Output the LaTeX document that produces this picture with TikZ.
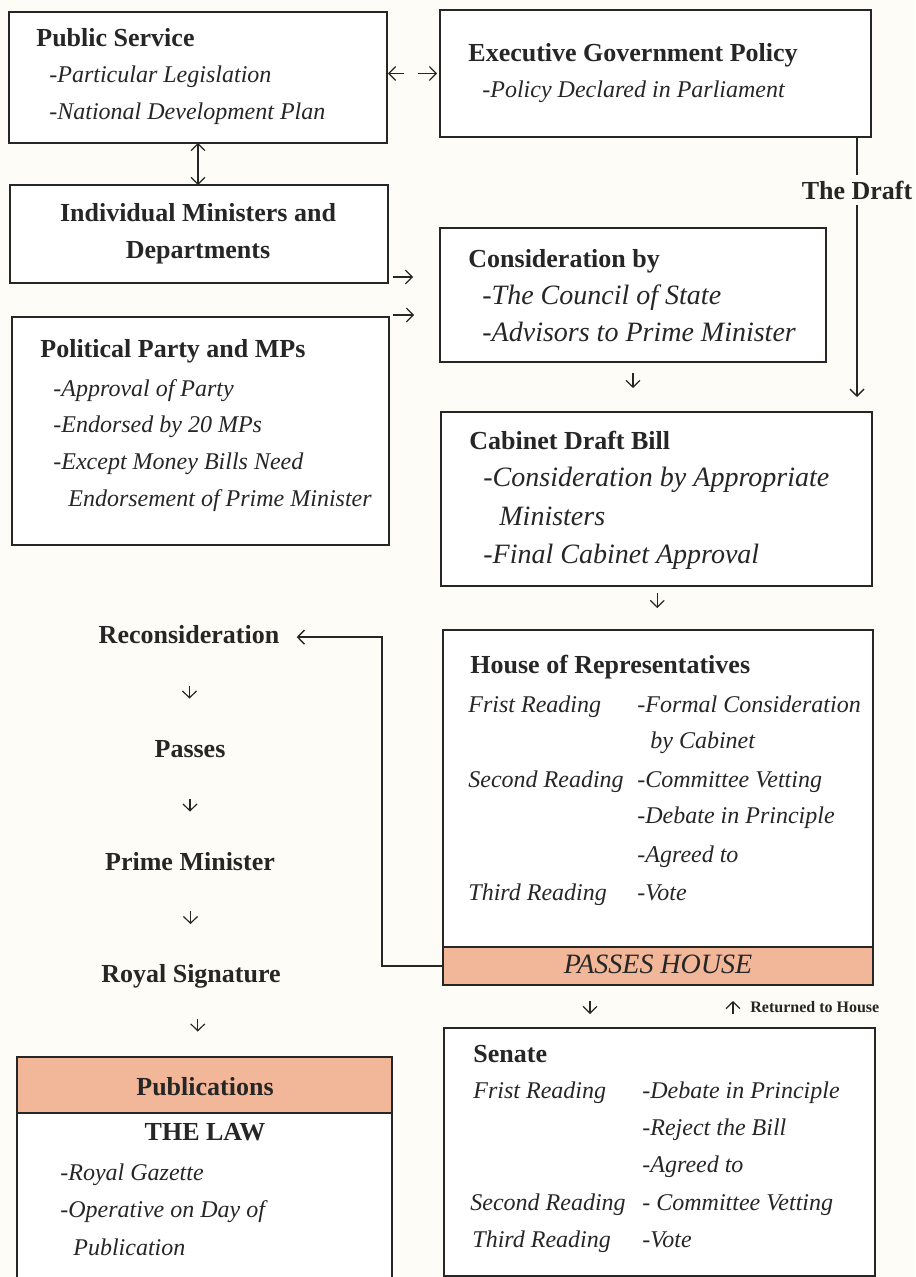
\documentclass[tikz,border=0pt]{standalone}
\usepackage{fontspec}
\setmainfont{Liberation Serif}
\usetikzlibrary{arrows.meta,calc}
\definecolor{salmon}{HTML}{F2B699}
\definecolor{paper}{HTML}{FDFCF7}
\definecolor{ink}{HTML}{262626}
\begin{document}
\begin{tikzpicture}[x=0.5pt,y=-0.5pt,
  box/.style={draw=ink,line width=1pt,fill=white,anchor=north west,inner sep=0pt,outer sep=0pt},
  band/.style={box,fill=salmon},
  ttl/.style={anchor=base west,inner sep=0pt,font=\fontsize{13}{15}\selectfont\bfseries,text=ink},
  ttlc/.style={ttl,anchor=base},
  itm/.style={anchor=base west,inner sep=0pt,font=\fontsize{12}{14}\selectfont\itshape,text=ink},
  itmb/.style={itm,font=\fontsize{14}{16}\selectfont\itshape},
  arr/.style={draw=ink,line width=0.6pt,-{Straight Barb[length=3.4pt,width=7pt]}},
  darr/.style={draw=ink,line width=0.6pt,{Straight Barb[length=3.4pt,width=7pt]}-{Straight Barb[length=3.4pt,width=7pt]}},
  conn/.style={draw=ink,line width=0.7pt}]
\useasboundingbox (0,0) rectangle (915,1277);
\clip (0,0) rectangle (915,1277);
\fill[paper] (0,0) rectangle (915,1277);

% Public Service
\node[box,minimum width=189pt,minimum height=65.5pt] (ps) at (9,12) {};
\node[ttl] (psT) at (36,47) {Public Service};
\node[itm] (ps1) at (49,83) {-Particular Legislation};
\node[itm] (ps2) at (49,120) {-National Development Plan};

% Executive Government Policy
\node[box,minimum width=215.5pt,minimum height=63.5pt] (eg) at (440,10) {};
\node[ttl] (egT) at (468,62) {Executive Government Policy};
\node[itm] (eg1) at (482,98) {-Policy Declared in Parliament};

% Individual Ministers
\node[box,minimum width=189pt,minimum height=49pt] (im) at (10,185) {};
\node[ttlc] (imT1) at (198,222) {Individual Ministers and};
\node[ttlc] (imT2) at (198,259) {Departments};

% Consideration by
\node[box,minimum width=193pt,minimum height=67pt] (cb) at (440,228) {};
\node[ttl] (cbT) at (468,268) {Consideration by};
\node[itmb] (cb1) at (482,305) {-The Council of State};
\node[itmb] (cb2) at (482,342) {-Advisors to Prime Minister};

% Political Party
\node[box,minimum width=188.5pt,minimum height=114pt] (pp) at (12,317) {};
\node[ttl] (ppT) at (40,358) {Political Party and MPs};
\node[itm] (pp1) at (53,397) {-Approval of Party};
\node[itm] (pp2) at (53,433) {-Endorsed by 20 MPs};
\node[itm] (pp3) at (53,470) {-Except Money Bills Need};
\node[itm] (pp4) at (68,507) {Endorsement of Prime Minister};

% Cabinet Draft Bill
\node[box,minimum width=215.5pt,minimum height=87pt] (cd) at (441,412) {};
\node[ttl] (cdT) at (469,450) {Cabinet Draft Bill};
\node[itmb] (cd1) at (483,487) {-Consideration by Appropriate};
\node[itmb] (cd2) at (499,525) {Ministers};
\node[itmb] (cd3) at (483,563) {-Final Cabinet Approval};

% House of Representatives
\node[box,minimum width=215pt,minimum height=177.5pt] (hr) at (443,630) {};
\node[band,minimum width=215pt,minimum height=19pt] (ph) at (443,947) {};
\node[anchor=base,inner sep=0pt,font=\fontsize{14}{16}\selectfont\itshape,text=ink] (phT) at (658,973) {PASSES HOUSE};
\node[ttl] (hrT) at (470,673) {House of Representatives};
\node[itm] (hr1) at (468,712) {Frist Reading};
\node[itm] (hr2) at (468,787) {Second Reading};
\node[itm] (hr3) at (468,900) {Third Reading};
\node[itm] (hr4) at (637,712) {-Formal Consideration};
\node[itm] (hr5) at (650,748) {by Cabinet};
\node[itm] (hr6) at (637,787) {-Committee Vetting};
\node[itm] (hr7) at (637,823) {-Debate in Principle};
\node[itm] (hr8) at (637,862) {-Agreed to};
\node[itm] (hr9) at (637,900) {-Vote};

% Senate
\node[box,minimum width=215.5pt,minimum height=124pt] (se) at (444,1028) {};
\node[ttl] (seT) at (473,1062) {Senate};
\node[itm] (se1) at (473,1098) {Frist Reading};
\node[itm] (se2) at (470,1210) {Second Reading};
\node[itm] (se3) at (472,1247) {Third Reading};
\node[itm] (se4) at (642,1098) {-Debate in Principle};
\node[itm] (se5) at (642,1135) {-Reject the Bill};
\node[itm] (se6) at (642,1172) {-Agreed to};
\node[itm] (se7) at (642,1210) {- Committee Vetting};
\node[itm] (se8) at (642,1247) {-Vote};

% Publications
\node[box,minimum width=187.5pt,minimum height=130pt] (pu) at (17,1057) {};
\node[band,minimum width=187.5pt,minimum height=28pt] (puH) at (17,1057) {};
\node[ttlc] (puT) at (205,1095) {Publications};
\node[ttlc] (law) at (205,1140) {THE LAW};
\node[itm] (pu1) at (60,1180) {-Royal Gazette};
\node[itm] (pu2) at (60,1217) {-Operative on Day of};
\node[itm] (pu3) at (73,1255) {Publication};

% Left column
\node[ttlc] (rc) at (189,643) {Reconsideration};
\node[ttlc] (pa) at (190,757) {Passes};
\node[ttlc] (pm) at (190,870) {Prime Minister};
\node[ttlc] (rs) at (191,982) {Royal Signature};

% The Draft label
\node[ttl,anchor=center,inner xsep=0pt,inner ysep=2.5pt] (draft) at (857,190) {The Draft};

% Connectors
\draw[arr] ([shift={(17,-4)}]ps.east) -- ++(-16,0);
\draw[arr] ([shift={(-22,0)}]eg.west) -- ++(19,0);
\draw[darr] (ps.south) -- (ps.south |- im.north);
\draw[arr] ([shift={(5,-6)}]im.south east) -- ++(20,0);
\draw[arr] ([shift={(4,-2)}]pp.north east) -- ++(21,0);
\draw[conn] ([xshift=-7pt]eg.south east) -- (draft.north);
\draw[arr,line width=0.7pt] (draft.south) -- ($(draft.south |- cd.north)+(0,-15)$);
\draw[arr] ($(cb.south)+(0,11)$) -- ++(0,15);
\draw[arr] ($(cd.south)!0.5!(hr.north)+(0,-15)$) -- ++(0,15);
\draw[arr,line width=0.7pt] (ph.west) -- ++(-61,0) |- ($(rc.east)+(17,3)$);
\draw[arr] ($(rc.south)!0.5!(pa.north)+(0,-6)$) -- ++(0,13);
\draw[arr] ($(pa.south)!0.5!(pm.north)+(0,-6)$) -- ++(0,13);
\draw[arr] ($(pm.south)!0.5!(rs.north)+(0,-6)$) -- ++(0,13);
\draw[arr] ($(rs.south)!0.5!(pu.north)+(0,-4)$) -- ++(0,13);
\draw[arr] ($(ph.south)+(-68,16)$) -- ++(0,13);
\draw[arr] ($(ph.south)+(75,29)$) -- ++(0,-13);
\node[anchor=base west,inner sep=0pt,font=\fontsize{8}{9}\selectfont\bfseries,text=ink] (ret) at (750,1012) {Returned to House};
\end{tikzpicture}
\end{document}
